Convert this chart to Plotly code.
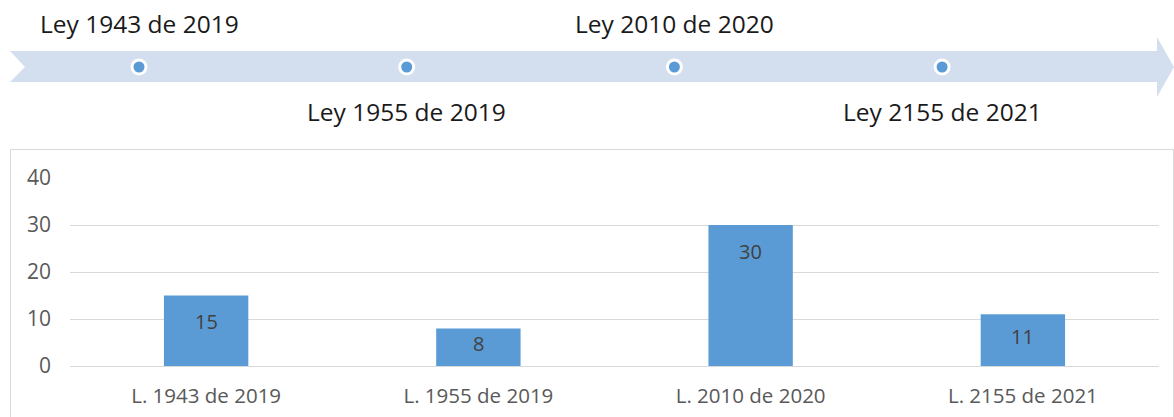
import plotly.graph_objects as go

# Data
categories = ["L. 1943 de 2019", "L. 1955 de 2019", "L. 2010 de 2020", "L. 2155 de 2021"]
values = [15, 8, 30, 11]
timeline_labels = ["Ley 1943 de 2019", "Ley 1955 de 2019", "Ley 2010 de 2020", "Ley 2155 de 2021"]
y_ticks = [0, 10, 20, 30, 40]

W, H = 1174, 417
BAR_COLOR = "#5B9BD5"
BAND_COLOR = "#D3DEEF"
GRID = "#D9D9D9"
FONT = "Open Sans"

# Plot-area geometry in pixels
PLOT_L, PLOT_R = 70, 1159
Y0_PX, Y40_PX = 366, 178
PX_PER_UNIT = (Y0_PX - Y40_PX) / 40

fig = go.Figure()

# Bar chart
fig.add_trace(go.Bar(
    x=categories, y=values, marker=dict(color=BAR_COLOR, line=dict(width=0)),
    xaxis="x", yaxis="y", showlegend=False, hoverinfo="skip",
))

# Value labels inside the top end of each bar
for c, v in zip(categories, values):
    shift = min(26, v * PX_PER_UNIT / 2 - 4)
    fig.add_annotation(x=c, y=v, xref="x", yref="y", text=str(v), showarrow=False,
                       yanchor="middle", yshift=-shift,
                       font=dict(family=FONT, size=20, color="#404040"))

# Timeline (pixel coordinates on a hidden overlay axis)
dot_x = [139 + i * 267.7 for i in range(len(timeline_labels))]
band_y = 67
shaft_top, shaft_bot = 51, 82
head_x, head_top, head_bot = 1157, 37, 97
notch_x = 25
path = (f"M 10 {shaft_top} L {head_x} {shaft_top} L {head_x} {head_top} L {W} {band_y} "
        f"L {head_x} {head_bot} L {head_x} {shaft_bot} L 10 {shaft_bot} L {notch_x} {band_y} Z")
fig.add_shape(type="path", path=path, xref="x2", yref="y2",
              fillcolor=BAND_COLOR, line=dict(width=0), layer="below")

fig.add_trace(go.Scatter(
    x=dot_x, y=[band_y] * len(dot_x), mode="markers", xaxis="x2", yaxis="y2",
    marker=dict(size=14, color=BAR_COLOR, line=dict(color="white", width=3)),
    showlegend=False, hoverinfo="skip",
))
for i, (lx, lab) in enumerate(zip(dot_x, timeline_labels)):
    fig.add_annotation(x=lx, y=23 if i % 2 == 0 else 111, xref="x2", yref="y2",
                       text=lab, showarrow=False, xanchor="center", yanchor="middle",
                       font=dict(family=FONT, size=24.5, color="#1a1a1a"))

# Chart frame
fig.add_shape(type="rect", x0=10.5, x1=1173.5, y0=149.5, y1=420, xref="x2", yref="y2",
              line=dict(color=GRID, width=1), fillcolor="rgba(0,0,0,0)", layer="below")

fig.update_layout(
    width=W, height=H, margin=dict(l=0, r=0, t=0, b=0, autoexpand=False),
    paper_bgcolor="white", plot_bgcolor="rgba(0,0,0,0)",
    bargap=0.69,
    xaxis=dict(domain=[PLOT_L / W, PLOT_R / W], showgrid=False, showline=False, ticks="",
               automargin=False, ticklabelstandoff=15,
               tickfont=dict(family=FONT, size=20.5, color="#595959"), anchor="y"),
    yaxis=dict(domain=[(H - Y0_PX) / H, (H - Y40_PX) / H], range=[0, 40], tickvals=y_ticks,
               showgrid=True, gridcolor=GRID, gridwidth=1, zeroline=True,
               zerolinecolor=GRID, zerolinewidth=1, showline=False, ticks="",
               automargin=False, ticklabelstandoff=18,
               tickfont=dict(family=FONT, size=21, color="#595959"), anchor="x"),
    xaxis2=dict(domain=[0, 1], range=[0, W], visible=False, anchor="y2", fixedrange=True,
                automargin=False),
    yaxis2=dict(domain=[0, 1], range=[H, 0], visible=False, anchor="x2", fixedrange=True,
                automargin=False),
)

fig.write_html("out.html")
